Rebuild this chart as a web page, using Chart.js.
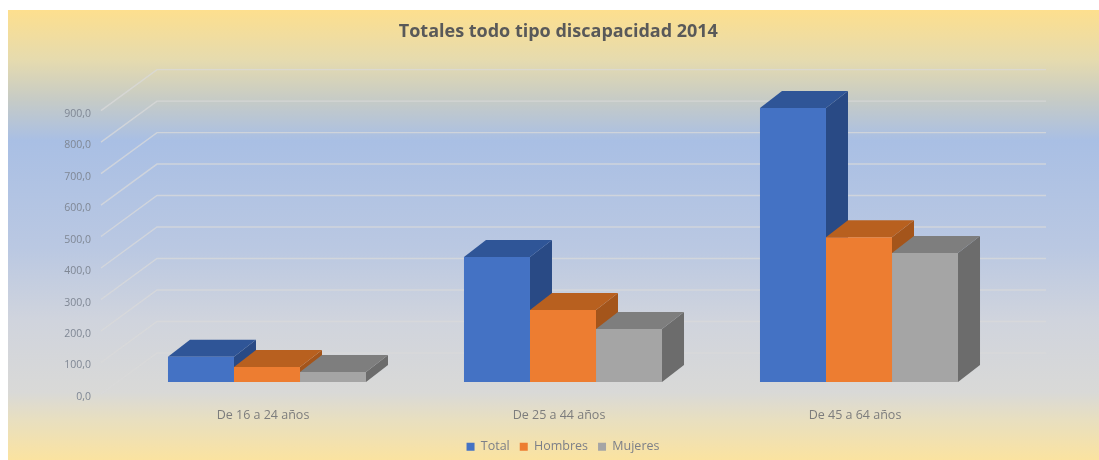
<!DOCTYPE html>
<html><head><meta charset="utf-8">
<script src="https://cdn.jsdelivr.net/npm/chart.js@4"></script>
<style>
html,body{margin:0;padding:0;background:#fff;width:1099px;height:460px;overflow:hidden}
#panel{position:absolute;left:8px;top:10px;width:1091px;height:450px;
background:linear-gradient(180deg,#fddf8e 0%,#e6dbae 11%,#c6cbc6 20%,#a9bfe4 29%,#bac8e2 53%,#d0d4dd 69%,#d9d9d7 85%,#e8dfc0 91%,#fbe3a0 100%);filter:blur(.5px)}
canvas{position:absolute;left:0;top:0;filter:blur(.6px)}
</style></head><body>
<div id="panel"></div>
<canvas id="c" width="1099" height="460"></canvas>
<script>
const categories = ["De 16 a 24 años","De 25 a 44 años","De 45 a 64 años"];
const total   = [80, 397, 870];
const hombres = [48, 229, 460];
const mujeres = [32, 168, 410];
const tickStep = 100;
const frontColors = ["#4472c4","#ed7d31","#a5a5a5"];
const topColors   = ["#2f5597","#b8601f","#7e7e7e"];
const sideColors  = ["#294a85","#a4551b","#6c6c6c"];

const depth = {dx:22, dy:17};
const wall = {dx:56, dy:41, frontOffset:12, leftFront:101, right:1046};

const perspective = {
  id:'perspective',
  beforeDatasetsDraw(chart){
    const {ctx} = chart, y = chart.scales.y;
    ctx.save();
    ctx.strokeStyle = 'rgba(217,217,217,0.75)'; ctx.lineWidth = 1.4;
    y.ticks.forEach(t=>{
      const fy = y.getPixelForValue(t.value) + wall.frontOffset;
      ctx.beginPath();
      ctx.moveTo(wall.leftFront, fy);
      ctx.lineTo(wall.leftFront+wall.dx, fy-wall.dy);
      ctx.lineTo(wall.right, fy-wall.dy);
      ctx.stroke();
    });
    chart.data.datasets.forEach((ds,i)=>{
      chart.getDatasetMeta(i).data.forEach(b=>{
        const l=b.x-b.width/2, r=b.x+b.width/2, t=b.y, base=b.base;
        ctx.fillStyle = sideColors[i];
        ctx.beginPath();
        ctx.moveTo(r,t);ctx.lineTo(r+depth.dx,t-depth.dy);ctx.lineTo(r+depth.dx,base-depth.dy);ctx.lineTo(r,base);
        ctx.closePath();ctx.fill();
        ctx.fillStyle = topColors[i];
        ctx.beginPath();
        ctx.moveTo(l,t);ctx.lineTo(l+depth.dx,t-depth.dy);ctx.lineTo(r+depth.dx,t-depth.dy);ctx.lineTo(r,t);
        ctx.closePath();ctx.fill();
      });
    });
    ctx.restore();
  }
};

new Chart(document.getElementById('c'),{
  type:'bar',
  plugins:[perspective],
  data:{labels:categories,datasets:[
    {label:'Total',data:total,backgroundColor:frontColors[0]},
    {label:'Hombres',data:hombres,backgroundColor:frontColors[1]},
    {label:'Mujeres',data:mujeres,backgroundColor:frontColors[2]}
  ]},
  options:{
    responsive:false,animation:false,
    layout:{padding:{left:0,right:92,top:0,bottom:-3}},
    datasets:{bar:{categoryPercentage:0.669,barPercentage:1}},
    plugins:{
      tooltip:{enabled:false},
      title:{display:true,text:'Totales todo tipo discapacidad 2014  ',color:'#595959',
        font:{family:'Open Sans',size:18,weight:'bold'},padding:{top:21,bottom:56},fullSize:false},
      legend:{position:'bottom',fullSize:false,labels:{usePointStyle:true,pointStyle:'rect',boxWidth:8,boxHeight:8,
        color:'#7c7f88',font:{family:'Open Sans',size:12.5},padding:10}}
    },
    scales:{
      x:{grid:{display:false},border:{display:false},
        afterFit(s){s.height=48.5;},
        ticks:{color:'#7d7d7d',font:{family:'Open Sans',size:12.5},padding:18,maxRotation:0,labelOffset:-4}},
      y:{min:0,max:900,grid:{display:false},border:{display:false},
        afterFit(s){s.width=119;},
        ticks:{stepSize:tickStep,color:'#7f8794',font:{family:'Open Sans',size:10.5},padding:20,labelOffset:15,
          callback:v=>v.toFixed(1).replace('.',',')}}
    }
  }
});
</script>
</body></html>
